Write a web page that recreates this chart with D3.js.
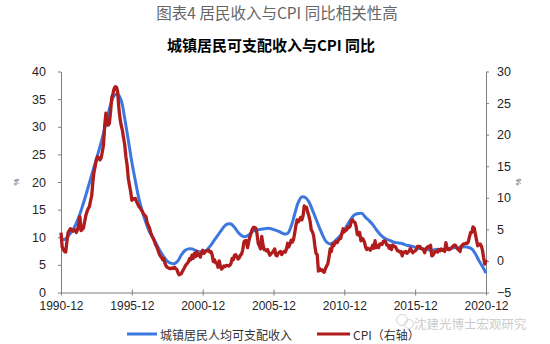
<!DOCTYPE html>
<html><head><meta charset="utf-8">
<script src="https://cdn.jsdelivr.net/npm/d3@7/dist/d3.min.js"></script>
<style>body{margin:0;background:#fff;} svg{display:block;}</style>
</head><body><svg id="c" width="550" height="344"></svg>
<script>
const title1 = "图表4 居民收入与CPI 同比相关性高";
const title2 = "城镇居民可支配收入与CPI 同比";
const xTickLabels = ["1990-12","1995-12","2000-12","2005-12","2010-12","2015-12","2020-12"];
const leftTicks = [0,5,10,15,20,25,30,35,40];
const rightTicks = [-5,0,5,10,15,20,25,30];
const seriesNames = ["城镇居民人均可支配收入","CPI（右轴）"];
const watermark = "沈建光博士宏观研究";

// 城镇居民人均可支配收入 同比 (%), quarterly from 1990-12 (left axis)
const incomeStart = "1990-12";
const income = [
  9.8,
  9.6,10.2,11.0,12.1,
  13.6,15.5,17.6,19.8,
  22.0,24.2,26.4,28.8,
  31.4,34.0,35.6,35.9,
  34.8,31.5,27.6,23.6,
  20.2,17.0,14.6,12.6,
  11.0,9.9,8.7,7.5,
  6.5,5.7,5.3,5.2,
  5.7,6.8,7.6,7.9,
  7.9,7.6,7.4,7.4,
  7.6,8.3,9.2,10.1,
  11.0,11.9,12.4,12.4,
  11.8,10.9,10.3,10.1,
  10.4,11.0,11.3,11.4,
  11.5,11.6,11.6,11.4,
  11.2,10.9,10.6,10.7,
  12.0,14.2,16.3,17.3,
  17.2,16.4,14.9,13.3,
  11.7,10.2,9.1,8.8,
  9.1,9.7,10.4,11.3,
  12.4,13.4,14.1,14.3,
  14.3,13.6,13.0,12.3,
  11.4,10.6,10.0,9.6,
  9.4,9.1,9.0,8.9,
  8.7,8.5,8.4,8.2,
  8.0,7.9,7.8,7.7,
  7.7,7.8,7.8,7.8,
  7.9,8.0,8.1,8.1,
  8.2,8.3,8.2,7.9,
  7.0,5.8,4.7,3.5
];

// CPI 同比 (%), monthly from 1990-12 (right axis)
const cpiStart = "1990-12";
const cpi = [
  4.5,
  2.2,1.8,1.5,1.4,3.0,4.5,4.8,5.1,4.9,4.7,4.9,4.9,
  4.5,5.0,5.7,7.0,4.8,5.0,5.2,6.2,7.2,7.8,8.3,8.6,
  9.5,10.4,12.5,14.1,15.0,16.0,16.5,16.3,16.0,16.3,17.3,18.4,
  21.5,23.4,22.1,21.5,21.8,23.6,25.8,26.5,27.3,27.6,27.5,26.8,
  24.2,22.5,21.5,20.7,19.5,18.4,16.5,15.2,13.1,12.0,11.0,9.6,
  9.9,9.8,9.9,9.4,9.0,8.6,8.4,8.1,7.8,7.4,7.2,7.0,
  6.0,5.6,5.2,4.5,4.0,3.6,3.2,2.6,2.3,1.8,1.2,0.8,
  0.6,0.2,0.4,-0.3,-0.8,-1.0,-1.1,-1.2,-1.2,-1.1,-1.2,-1.0,
  -1.2,-1.3,-1.8,-2.2,-2.1,-2.0,-1.6,-1.3,-0.9,-0.6,-0.4,-0.1,
  0.4,0.2,0.9,0.4,1.2,0.7,1.5,0.9,1.0,0.6,1.3,1.7,
  1.2,1.4,1.6,1.6,1.7,1.4,1.5,1.0,-0.1,0.2,-0.3,-0.3,
  -1.0,0.0,-0.8,-1.3,-1.1,-0.8,-0.9,-0.7,-0.7,-0.8,-0.7,-0.4,
  0.4,0.2,0.9,1.0,0.7,0.3,0.5,0.9,1.1,1.8,3.0,3.2,
  3.2,2.1,3.0,3.8,4.4,5.0,5.3,5.3,5.2,4.3,2.8,2.4,
  1.9,3.9,2.7,1.8,1.8,1.6,1.8,1.3,0.9,1.2,1.3,1.6,
  1.9,0.9,0.8,1.2,1.4,1.5,1.0,1.3,1.5,1.4,1.9,2.8,
  2.2,2.7,3.3,3.0,3.4,4.4,5.6,6.5,6.2,6.5,6.9,6.5,
  7.1,8.7,8.3,8.5,7.7,7.1,6.3,4.9,4.6,4.0,2.4,1.2,
  1.0,-1.6,-1.2,-1.5,-1.4,-1.7,-1.8,-1.2,-0.8,-0.5,0.6,1.9,
  1.5,2.7,2.4,2.8,3.1,2.9,3.3,3.5,3.6,4.4,5.1,4.6,
  4.9,4.9,5.4,5.3,5.5,6.4,6.5,6.2,6.1,5.5,4.2,4.1,
  4.5,3.2,3.6,3.4,3.0,2.2,1.8,2.0,1.9,1.7,2.0,2.5,
  2.0,3.2,2.1,2.4,2.1,2.7,2.7,2.6,3.1,3.2,3.0,2.5,
  2.5,2.0,2.4,1.8,2.5,2.3,2.3,2.0,1.6,1.6,1.4,1.5,
  0.8,1.4,1.4,1.5,1.2,1.4,1.6,2.0,1.6,1.3,1.5,1.6,
  1.8,2.3,2.3,2.3,2.0,1.9,1.8,1.3,1.9,2.1,2.3,2.1,
  2.5,0.8,0.9,1.2,1.5,1.5,1.4,1.8,1.6,1.9,1.7,1.8,
  1.5,2.9,2.1,1.8,1.8,1.9,2.1,2.3,2.5,2.5,2.2,1.9,
  1.7,1.5,2.3,2.5,2.7,2.7,2.8,2.8,3.0,3.8,4.5,4.5,
  5.4,5.2,4.3,3.3,2.4,2.5,2.7,2.4,1.7,0.5,-0.5,0.2
];

const colors = {income:"#3d78e0", cpi:"#b01c1c", axis:"#7f7f7f", text:"#262626"};

const svg = d3.select("#c");
const parse = d3.timeParse("%Y-%m");
const m = {left:61, right:486, top:71.5, bottom:292.5};

const x = d3.scaleTime().domain([parse(xTickLabels[0]), parse(xTickLabels[xTickLabels.length-1])]).range([m.left, m.right]);
const yL = d3.scaleLinear().domain([0,40]).range([m.bottom, m.top]);
const yR = d3.scaleLinear().domain([-5,30]).range([m.bottom, m.top]);

const incomeData = income.map((v,i)=>({d:d3.timeMonth.offset(parse(incomeStart), 3*i), v}));
const cpiData = cpi.map((v,i)=>({d:d3.timeMonth.offset(parse(cpiStart), i), v}));

// titles
svg.append("text").attr("x",277).attr("y",19).attr("text-anchor","middle")
  .attr("font-family","'Noto Sans CJK SC'").attr("font-size",15.5).attr("fill","#666").text(title1);
svg.append("text").attr("x",271).attr("y",51).attr("text-anchor","middle")
  .attr("font-family","'Noto Sans CJK SC'").attr("font-weight","bold").attr("font-size",15).attr("fill","#000").text(title2);

// left axis
const axL = svg.append("g").attr("transform",`translate(${m.left},0)`)
  .call(d3.axisLeft(yL).tickValues(leftTicks).tickSize(3).tickSizeOuter(0).tickPadding(12));
// right axis
const axR = svg.append("g").attr("transform",`translate(${m.right},0)`)
  .call(d3.axisRight(yR).tickValues(rightTicks).tickSize(3).tickSizeOuter(0).tickPadding(8));
// bottom axis
const axB = svg.append("g").attr("transform",`translate(0,${m.bottom})`)
  .call(d3.axisBottom(x).tickValues(xTickLabels.map(parse)).tickFormat(d3.timeFormat("%Y-%m")).tickSize(3).tickSizeOuter(0).tickPadding(6));
axB.selectAll(".tick line").attr("y1",-3);

[axL,axR,axB].forEach(g=>{
  g.select(".domain").attr("stroke",colors.axis);
  g.selectAll(".tick line").attr("stroke",colors.axis);
  g.selectAll("text").attr("font-family","'Liberation Sans', Arial, sans-serif").attr("font-size",12.5).attr("fill",colors.text);
});
axB.selectAll("text").attr("font-size",12);

// % unit labels
svg.append("text").attr("transform","translate(19,182) rotate(-90)").attr("text-anchor","middle")
  .attr("font-family","'Liberation Sans', Arial").attr("font-size",8).attr("fill","#555").text("%");
svg.append("text").attr("transform","translate(521,182) rotate(-90)").attr("text-anchor","middle")
  .attr("font-family","'Liberation Sans', Arial").attr("font-size",8).attr("fill","#555").text("%");

// lines
const lineInc = d3.line().x(d=>x(d.d)).y(d=>yL(d.v)).curve(d3.curveCatmullRom.alpha(0.5));
const lineCpi = d3.line().x(d=>x(d.d)).y(d=>yR(d.v));
svg.append("path").datum(incomeData).attr("d",lineInc).attr("fill","none")
  .attr("stroke",colors.income).attr("stroke-width",3).attr("stroke-linejoin","round");
svg.append("path").datum(cpiData).attr("d",lineCpi).attr("fill","none")
  .attr("stroke",colors.cpi).attr("stroke-width",3.3).attr("stroke-linejoin","round");

// legend
const lg = svg.append("g");
const legendItems = [
  {name:seriesNames[0], color:colors.income, x1:127, x2:157},
  {name:seriesNames[1], color:colors.cpi, x1:317, x2:350}
];
legendItems.forEach(it=>{
  lg.append("line").attr("x1",it.x1).attr("x2",it.x2).attr("y1",334).attr("y2",334)
    .attr("stroke",it.color).attr("stroke-width",3);
  lg.append("text").attr("x",it.x2+3).attr("y",334).attr("dominant-baseline","central")
    .attr("font-family","'Noto Sans CJK SC'").attr("font-size",12).attr("fill","#333").text(it.name);
});

// watermark
const wm = svg.append("g").attr("opacity",0.5);
wm.append("circle").attr("cx",402).attr("cy",320).attr("r",5.5).attr("fill","none").attr("stroke","#aaa").attr("stroke-width",1);
wm.append("circle").attr("cx",409).attr("cy",324).attr("r",4.5).attr("fill","none").attr("stroke","#aaa").attr("stroke-width",1);
wm.append("text").attr("x",414).attr("y",323).attr("dominant-baseline","central")
  .attr("font-family","'Noto Sans CJK SC'").attr("font-size",12.5).attr("fill","#999").text(watermark);
</script></body></html>
